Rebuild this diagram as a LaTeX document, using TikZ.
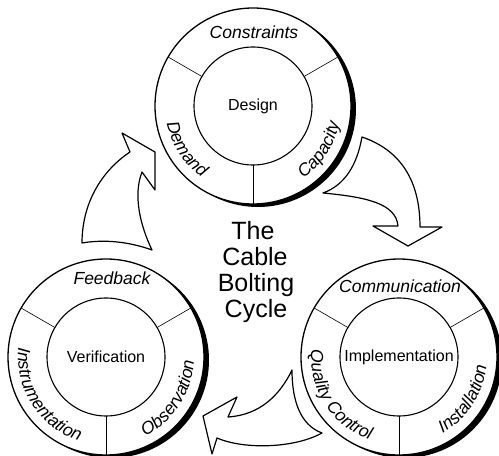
\documentclass[tikz,border=0pt]{standalone}
\usepackage{fontspec}
\setmainfont{Liberation Sans}
\usetikzlibrary{decorations.text,calc}

\newcommand\ringfont{\itshape\fontsize{17.5}{20}\selectfont}
\newcommand\hubfont{\fontsize{16}{19}\selectfont}
\newcommand\titlefont{\fontsize{25}{26}\selectfont}

\tikzset{
  ring/.style={fill=white, draw=black, line width=1.3pt},
  hub/.style={fill=white, draw=black, line width=1.1pt},
  shade/.style={fill=black},
  spoke/.style={draw=black, line width=0.6pt},
  flow/.style={fill=white, draw=black, line width=1.2pt, line join=round},
  hublabel/.style={font=\hubfont, inner sep=0pt},
  toplabel/.style={font=\ringfont, inner sep=0pt, anchor=base},
  titleline/.style={font=\titlefont, inner sep=0pt, anchor=base},
}

% one wheel: name, x, y, hub text, lower-left text, lower-right text
\newcommand\cyclewheel[6]{%
  \coordinate (#1) at (#2,#3);
  \fill[shade] ($(#1)+(5,-3)$) circle[radius=98pt];
  \draw[ring] (#1) circle[radius=98pt];
  \foreach \ang in {30,150,270}
    \draw[spoke] ($(#1)+(\ang:59pt)$) -- ($(#1)+(\ang:98pt)$);
  \draw[hub] (#1) circle[radius=59pt];
  \node[hublabel] (#1-hub) at (#1) {#4};
  \path[decorate, decoration={text along path, text align=center,
        text={|\ringfont|#5}}]
    ($(#1)+(160:88pt)$) arc[start angle=160, end angle=266, radius=88pt];
  \path[decorate, decoration={text along path, text align=center,
        text={|\ringfont|#6}}]
    ($(#1)+(284:88pt)$) arc[start angle=284, end angle=370, radius=88pt];
}

\begin{document}
\begin{tikzpicture}[x=1pt,y=1pt]
  \useasboundingbox (0,0) rectangle (499,456);

  % curved flow arrows between the stages
  \draw[flow] (82,213) .. controls (105,217) and (130,214) .. (152,206)
    .. controls (140,231) and (133,261) .. (142,284)
    -- (155,266) -- (155,304) -- (122,323) -- (130,304)
    .. controls (100,284) and (82,251) .. (82,213) -- cycle;

  \draw[flow] (362,319) .. controls (357,291) and (345,271) .. (323,263)
    .. controls (365,259) and (396,253) .. (398,230)
    -- (373,230) -- (408,210) -- (442,229) -- (420,229)
    .. controls (420,276) and (400,306) .. (362,319) -- cycle;

  \draw[flow] (292,86) .. controls (292,56) and (300,31) .. (322,23)
    .. controls (295,8) and (245,6) .. (217,18)
    -- (212,2) -- (203,40) -- (237,59) -- (228,39)
    .. controls (260,41) and (280,61) .. (292,86) -- cycle;

  % the three stage wheels
  \cyclewheel{dsg}{253}{350}{Design}{Demand}{Capacity}
  \cyclewheel{ver}{106}{99}{Verification}{Instrumentation}{Observation}
  \cyclewheel{imp}{399}{99}{Implementation}{Quality Control}{Installation}

  \node[toplabel] (dsg-top) at (254,417) {Constraints};
  \node[toplabel] (ver-top) at (112,171) {Feedback};
  \node[toplabel] (imp-top) at (400,163) {Communication};

  % title in the middle
  \node[titleline] (t1) at (253,216) {The};
  \node[titleline] (t2) at (255,190) {Cable};
  \node[titleline] (t3) at (256,164) {Bolting};
  \node[titleline] (t4) at (256,138) {Cycle};
\end{tikzpicture}
\end{document}
